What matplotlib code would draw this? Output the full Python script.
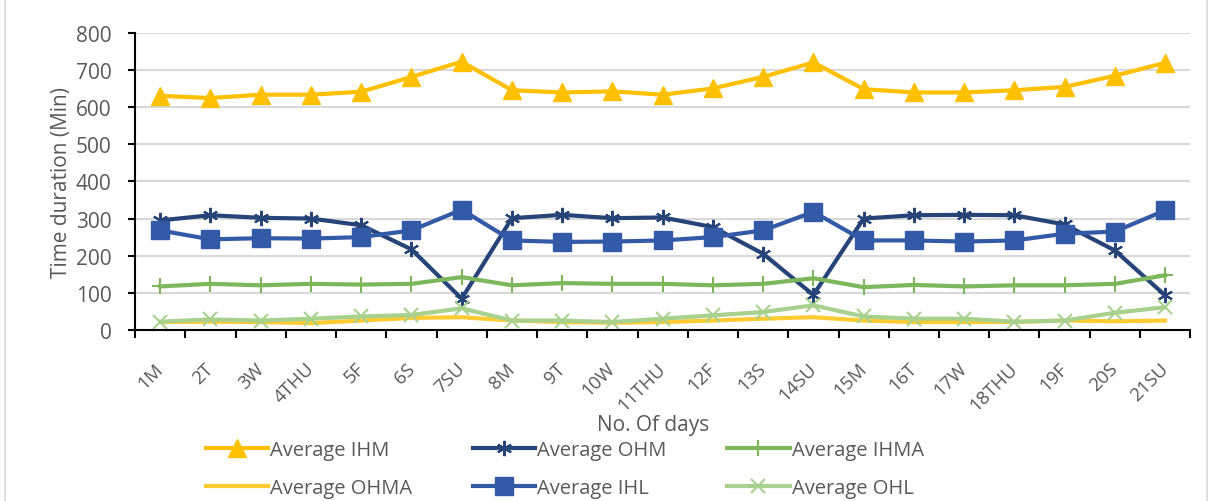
import matplotlib.pyplot as plt
from matplotlib.patches import Rectangle

plt.rcParams['font.family'] = ['Open Sans', 'DejaVu Sans']

# data set
days = ['1M', '2T', '3W', '4THU', '5F', '6S', '7SU', '8M', '9T', '10W', '11THU',
        '12F', '13S', '14SU', '15M', '16T', '17W', '18THU', '19F', '20S', '21SU']

ihm = [631, 625, 634, 634, 642, 682, 723, 646, 640, 643, 634,
       651, 682, 721, 649, 640, 640, 646, 655, 685, 720]
ohm = [295, 309, 302, 300, 282, 217, 84, 301, 310, 301, 303,
       277, 205, 94, 300, 309, 310, 309, 284, 214, 93]
ihma = [117, 124, 120, 124, 122, 124, 142, 120, 126, 124, 124,
        120, 124, 139, 115, 121, 117, 120, 120, 124, 147]
ohma = [21, 22, 21, 18, 25, 32, 34, 25, 21, 19, 21,
        25, 30, 34, 25, 21, 21, 21, 25, 23, 25]
ihl = [268, 244, 247, 246, 250, 268, 324, 241, 237, 238, 241,
       250, 268, 318, 241, 241, 238, 241, 259, 265, 322]
ohl = [22, 28, 25, 30, 36, 40, 58, 25, 25, 21, 30,
       39, 48, 66, 36, 30, 30, 22, 25, 46, 61]

fig = plt.figure(figsize=(12.17, 5.02), dpi=100)
ax = fig.add_axes([0.111, 0.341, 0.867, 0.591])

x = list(range(len(days)))
gray = '#595959'

l_ihm, = ax.plot(x, ihm, color='#FFC000', lw=3, marker='^', ms=13, label='Average IHM')
l_ohm, = ax.plot(x, ohm, color='#264478', lw=3, marker=(6, 2, 0), ms=11, mew=1.5,
                 label='Average OHM')
l_ihma, = ax.plot(x, ihma, color='#7DB75B', lw=3, marker='+', ms=12, mew=1.5,
                  label='Average IHMA')
l_ohma, = ax.plot(x, ohma, color='#FFCB33', lw=3, label='Average OHMA')
l_ihl, = ax.plot(x, ihl, color='#335AA6', lw=3, marker='s', ms=12.5, label='Average IHL')
l_ohl, = ax.plot(x, ohl, color='#A9D18E', lw=3, marker='x', ms=10, mew=1.5,
                 label='Average OHL')

ax.set_ylim(0, 800)
ax.set_xlim(-0.5, len(days) - 0.5)
ax.set_yticks(range(0, 801, 100))
ax.yaxis.grid(True, color='#D9D9D9', lw=1.5)
ax.set_axisbelow(True)

# major ticks between days, day labels on minor ticks (slightly left of centre)
ax.set_xticks([i - 0.5 for i in range(len(days) + 1)], minor=False)
ax.set_xticklabels([])
ax.set_xticks([i - 0.12 for i in x], minor=True)
ax.set_xticklabels(days, minor=True, rotation=45, ha='right', va='top',
                   rotation_mode='anchor', fontsize=13.5, color=gray)
ax.tick_params(axis='x', which='major', length=6, width=1.5, direction='out')
ax.tick_params(axis='x', which='minor', length=0, pad=21)
ax.tick_params(axis='y', length=5, width=1.5, labelsize=15, labelcolor=gray, pad=12)

for side in ['top', 'right']:
    ax.spines[side].set_visible(False)
ax.spines['left'].set_linewidth(1.5)
ax.spines['bottom'].set_linewidth(1.5)

ax.set_ylabel('Time duration (Min)', fontsize=15, color=gray, labelpad=3)
ax.set_xlabel('No. Of days', fontsize=15, color=gray)
ax.xaxis.set_label_coords(0.491, -0.285)

handles = [l_ihm, l_ohma, l_ohm, l_ihl, l_ihma, l_ohl]
fig.legend(handles=handles, labels=[h.get_label() for h in handles], ncol=3,
           loc='upper left', bbox_to_anchor=(0.161, 0.142), frameon=False,
           fontsize=14.5, labelcolor=gray, handlelength=3.1, handletextpad=0.1,
           columnspacing=3.0, labelspacing=0.9, borderpad=0.0)

fig.patches.append(Rectangle((0.004, -0.01), 0.988, 1.02, transform=fig.transFigure,
                             fill=False, edgecolor='#D9D9D9', lw=1.2))

plt.savefig('out.png', dpi=100)
